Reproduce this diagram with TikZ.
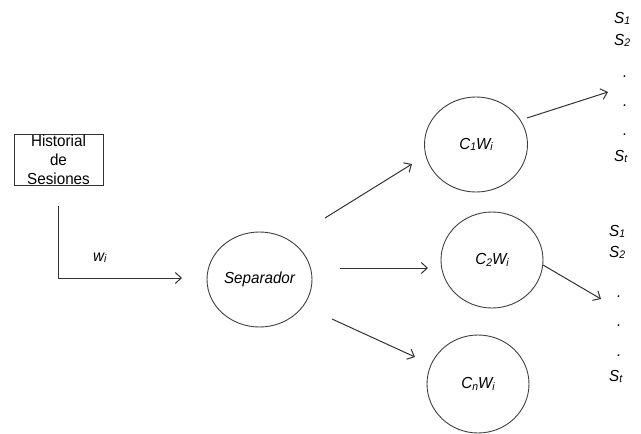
\documentclass[tikz,border=0pt]{standalone}
\usepackage{fontspec}
\setmainfont[FakeStretch=0.95]{Liberation Sans}
\usetikzlibrary{arrows.meta,shapes.geometric}
\newcommand{\mysub}[1]{\raisebox{-1.5pt}{\fontsize{11}{12}\selectfont #1}}
\tikzset{
  lbl/.style={font=\fontsize{16}{19}\selectfont\itshape, inner sep=0pt},
  circ/.style={ellipse, draw=black!75, line width=0.9pt, inner sep=0pt,
    font=\fontsize{16}{19}\selectfont\itshape},
  arr/.style={draw=black!80, line width=1pt, -{Straight Barb[length=6pt,width=11pt]}},
  ln/.style={draw=black!80, line width=1pt}
}
\begin{document}
\begin{tikzpicture}[x=1pt,y=-1pt]
\useasboundingbox (0,0) rectangle (641,434);
\fill[white] (0,0) rectangle (641,434);
% box
\node[draw=black!80, line width=0.9pt, minimum width=89pt, minimum height=51pt, inner sep=0pt, align=center,
  font=\fontsize{16}{19}\selectfont] (hist) at (58.5,159.5) {Historial\\de\\Sesiones};
\coordinate (a) at (58,206);
\coordinate (b) at (58,278);
\coordinate (c) at (182,278);
\draw[ln] (a) -- (b);
\draw[arr] (b) -- (c);
\node[lbl, anchor=base west] (w) at (93,261) {w\mysub{i}};
% circles
\node[circ, minimum width=105pt, minimum height=95pt] (sep) at (259.5,279.5) {Separador};
\node[circ, minimum width=103pt, minimum height=95pt] (c1) at (476,144.5) {C\mysub{1}W\mysub{i}};
\node[circ, minimum width=102pt, minimum height=96pt] (c2) at (492,260) {C\mysub{2}W\mysub{i}};
\node[circ, minimum width=102pt, minimum height=98pt] (cn) at (478,384) {C\mysub{n}W\mysub{i}};
% arrows from separator
\coordinate (s1a) at (325,218); \coordinate (s1b) at (412,164);
\coordinate (s2a) at (340,268); \coordinate (s2b) at (428,268);
\coordinate (s3a) at (332,319); \coordinate (s3b) at (415,357);
\draw[arr] (s1a) -- (s1b);
\draw[arr] (s2a) -- (s2b);
\draw[arr] (s3a) -- (s3b);
% arrows to lists
\coordinate (l1a) at (527,118); \coordinate (l1b) at (608,92);
\coordinate (l2a) at (543,265); \coordinate (l2b) at (601,299);
\draw[arr] (l1a) -- (l1b);
\draw[arr] (l2a) -- (l2b);
% list 1
\node[lbl, anchor=base west] (p1) at (614,23) {S\mysub{1}};
\node[lbl, anchor=base west] (p2) at (614,45) {S\mysub{2}};
\node[lbl, anchor=base west] (p3) at (623,77) {.};
\node[lbl, anchor=base west] (p4) at (623,106) {.};
\node[lbl, anchor=base west] (p5) at (623,135) {.};
\node[lbl, anchor=base west] (p6) at (614,161) {S\mysub{t}};
% list 2
\node[lbl, anchor=base west] (q1) at (609,236) {S\mysub{1}};
\node[lbl, anchor=base west] (q2) at (609,257) {S\mysub{2}};
\node[lbl, anchor=base west] (q3) at (617,297) {.};
\node[lbl, anchor=base west] (q4) at (617,326) {.};
\node[lbl, anchor=base west] (q5) at (617,356) {.};
\node[lbl, anchor=base west] (q6) at (609,381) {S\mysub{t}};
\end{tikzpicture}
\end{document}
